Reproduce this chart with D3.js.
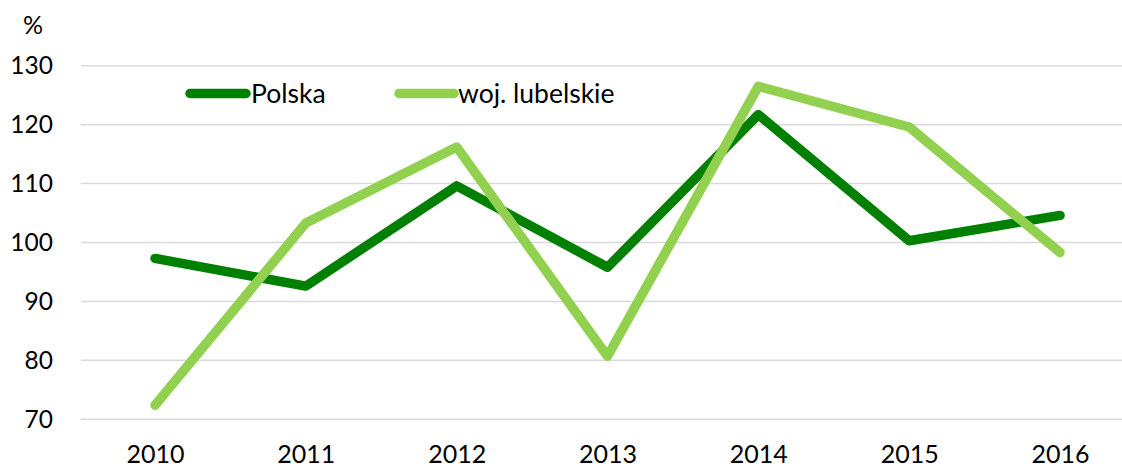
<!DOCTYPE html>
<html>
<head>
<meta charset="utf-8">
<script src="https://cdn.jsdelivr.net/npm/d3@7"></script>
<style>
  html, body { margin: 0; padding: 0; background: #fff; }
  svg { display: block; font-family: Lato, "Open Sans", sans-serif; }
</style>
</head>
<body>
<svg id="chart" width="1122" height="468"></svg>
<script>
// Years on the category axis
const years = ["2010", "2011", "2012", "2013", "2014", "2015", "2016"];
// Index values (%) per series
const polska = [97.3, 92.6, 109.6, 95.8, 121.7, 100.3, 104.6];
const lubelskie = [72.4, 103.3, 116.2, 80.7, 126.5, 119.6, 98.3];
const seriesNames = ["Polska", "woj. lubelskie"];
const seriesColors = ["#008000", "#92D050"];
// Value axis ticks
const yTicks = [70, 80, 90, 100, 110, 120, 130];

const svg = d3.select("#chart");

const x = d3.scalePoint().domain(years).range([155, 1060]);
const y = d3.scaleLinear().domain([70, 130]).range([419.3, 65.7]);

// Horizontal gridlines
svg.append("g")
  .selectAll("line")
  .data(yTicks)
  .join("line")
  .attr("x1", 81).attr("x2", 1136)
  .attr("y1", d => y(d)).attr("y2", d => y(d))
  .attr("stroke", "#d9d9d9").attr("stroke-width", 1.5);

// Value axis labels
const yAxis = d3.axisLeft(y).tickValues(yTicks).tickSize(0).tickPadding(0);
svg.append("g")
  .attr("transform", "translate(53,0)")
  .call(yAxis)
  .call(g => g.select(".domain").remove())
  .call(g => g.selectAll("text")
    .attr("font-size", 24.5).attr("font-family", "Lato, 'Open Sans', sans-serif")
    .attr("fill", "#000"));

// Unit label
svg.append("text")
  .attr("x", 33).attr("y", 34)
  .attr("text-anchor", "middle")
  .attr("font-size", 25).attr("fill", "#000")
  .text("%");

// Category axis labels
const xAxis = d3.axisBottom(x).tickSize(0).tickPadding(0);
svg.append("g")
  .attr("transform", "translate(0,445)")
  .call(xAxis)
  .call(g => g.select(".domain").remove())
  .call(g => g.selectAll("text")
    .attr("font-size", 25).attr("font-family", "Lato, 'Open Sans', sans-serif")
    .attr("fill", "#000"));

// Series lines
const line = d3.line()
  .x((d, i) => x(years[i]))
  .y(d => y(d));

const seriesData = [polska, lubelskie];
[0, 1].forEach(k => {
  svg.append("path")
    .datum(seriesData[k])
    .attr("d", line)
    .attr("fill", "none")
    .attr("stroke", seriesColors[k])
    .attr("stroke-width", 9.5)
    .attr("stroke-linejoin", "round")
    .attr("stroke-linecap", "round");
});

// Legend
const legendItems = [
  { x1: 190, x2: 246, tx: 251 },
  { x1: 399, x2: 454, tx: 458 }
];
legendItems.forEach((it, k) => {
  svg.append("line")
    .attr("x1", it.x1).attr("x2", it.x2)
    .attr("y1", 93.5).attr("y2", 93.5)
    .attr("stroke", seriesColors[k])
    .attr("stroke-width", 9.5)
    .attr("stroke-linecap", "round");
  svg.append("text")
    .attr("x", it.tx).attr("y", 103)
    .attr("font-size", 26.5).attr("fill", "#000")
    .text(seriesNames[k]);
});
</script>
</body>
</html>
